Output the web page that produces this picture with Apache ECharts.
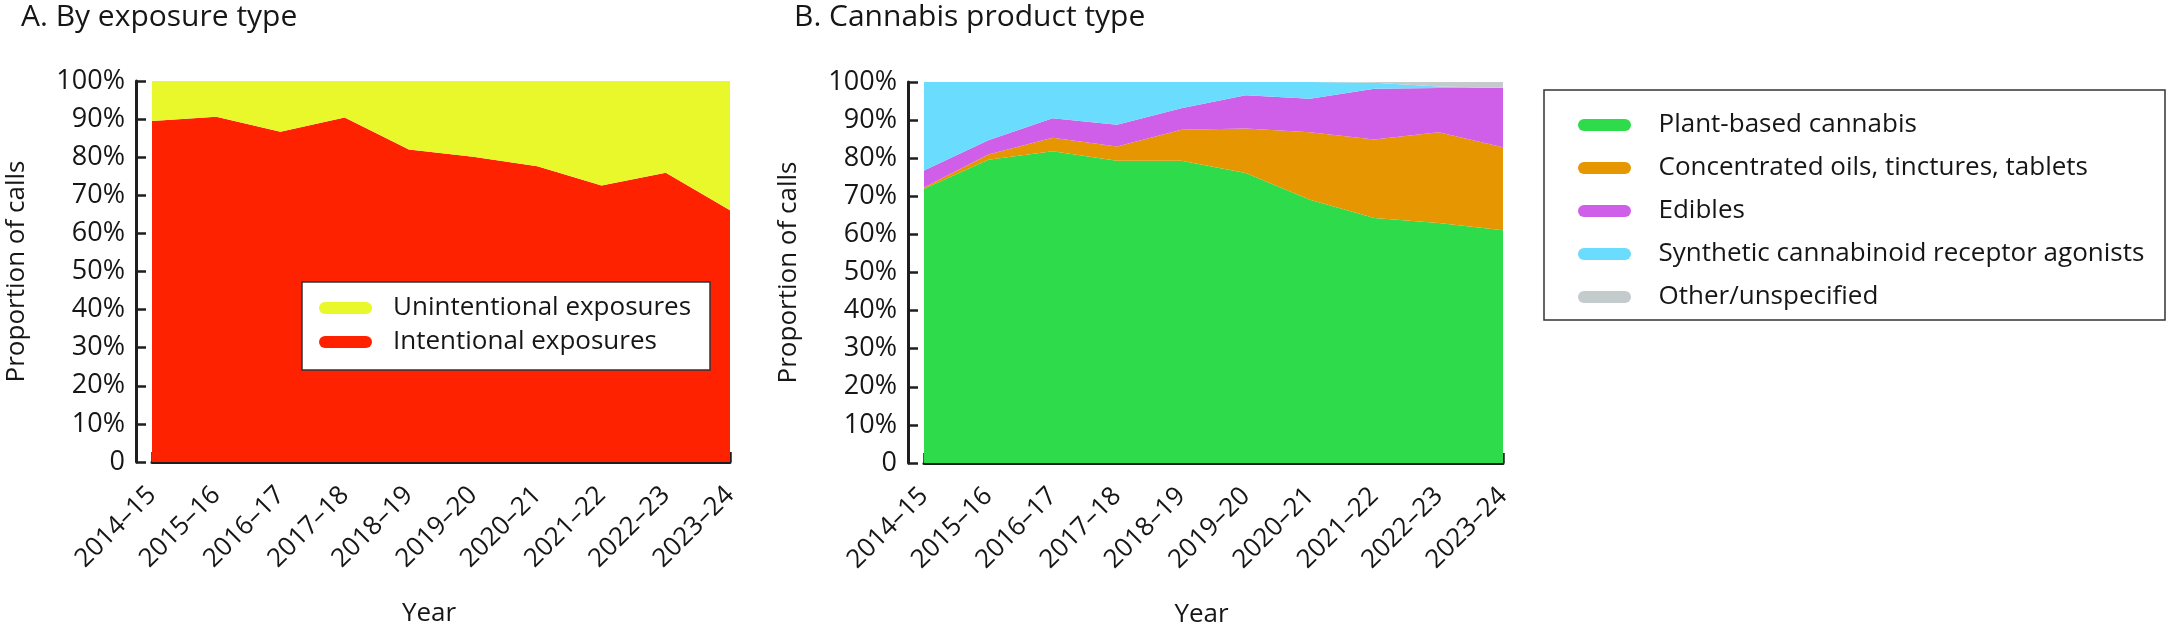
<!DOCTYPE html>
<html>
<head>
<meta charset="utf-8">
<title>Cannabis exposure calls</title>
<script src="https://cdn.jsdelivr.net/npm/echarts@6/dist/echarts.min.js"></script>
<style>
    html, body { margin: 0; padding: 0; background: #fff; }
    #chart { width: 2168px; height: 634px; }
</style>
</head>
<body>
<div id="chart"></div>
<script>
// 年度（两幅图共用）
const years = ['2014–15', '2015–16', '2016–17', '2017–18', '2018–19', '2019–20', '2020–21', '2021–22', '2022–23', '2023–24'];

// A. 按暴露类型
const intentional = [89.5, 90.6, 86.7, 90.4, 82.0, 80.1, 77.6, 72.6, 75.9, 66.1];
const unintentional = [10.5, 9.4, 13.3, 9.6, 18.0, 19.9, 22.4, 27.4, 24.1, 33.9];

// B. 按大麻产品类型
const plantBased = [72.0, 79.6, 81.8, 79.3, 79.3, 76.1, 69.1, 64.3, 63.0, 61.1];
const concentrated = [0.3, 1.4, 3.6, 3.8, 8.2, 11.7, 17.7, 20.6, 23.8, 21.8];
const edibles = [4.5, 3.7, 5.1, 5.7, 5.6, 8.7, 8.8, 13.3, 11.6, 15.6];
const synthetic = [23.2, 15.3, 9.5, 11.2, 6.9, 3.5, 4.4, 1.6, 0.4, 0];
const other = [0, 0, 0, 0, 0, 0, 0, 0.2, 1.2, 1.5];

// y 轴刻度
const yTicks = [0, 10, 20, 30, 40, 50, 60, 70, 80, 90, 100];

const FONT = '"Open Sans", "Noto Sans", sans-serif';
const TEXT = '#161616';
const AXIS = '#1e1e1e';
const PILL = 'path://M6,0 L47,0 A6,6 0 0 1 47,12 L6,12 A6,6 0 0 1 6,0 Z';

const chart = echarts.init(document.getElementById('chart'), null, { renderer: 'canvas' });

function xAxisFor(gridIndex) {
    return {
        type: 'category',
        gridIndex: gridIndex,
        data: years,
        boundaryGap: false,
        offset: 15,
        axisLine: { lineStyle: { color: AXIS, width: 3 } },
        axisTick: { inside: true, length: 10, alignWithLabel: true, interval: 0, lineStyle: { color: AXIS, width: 2.5 } },
        axisLabel: { interval: 0, rotate: 45, margin: 14, fontSize: 26, fontFamily: FONT, color: TEXT },
        name: 'Year',
        nameLocation: 'middle',
        nameGap: 124,
        nameTextStyle: { fontSize: 26, fontFamily: FONT, color: TEXT, padding: [0, 24, 0, 0] },
        splitLine: { show: false }
    };
}

function yAxisFor(gridIndex) {
    return {
        type: 'value',
        gridIndex: gridIndex,
        min: yTicks[0],
        max: yTicks[yTicks.length - 1],
        interval: yTicks[1] - yTicks[0],
        offset: 16,
        axisLine: { show: true, lineStyle: { color: AXIS, width: 3 } },
        axisTick: { show: true, inside: true, length: 10, lineStyle: { color: AXIS, width: 2.5 } },
        axisLabel: {
            margin: 11,
            fontSize: 27,
            fontFamily: FONT,
            color: TEXT,
            formatter: function (v) { return v === 0 ? '0' : v + '%'; }
        },
        name: 'Proportion of calls',
        nameLocation: 'middle',
        nameGap: 106,
        nameRotate: 90,
        nameTextStyle: { fontSize: 26, fontFamily: FONT, color: TEXT },
        splitLine: { show: false }
    };
}

function area(name, data, color, xIdx, stack) {
    return {
        name: name,
        type: 'line',
        xAxisIndex: xIdx,
        yAxisIndex: xIdx,
        stack: stack,
        data: data,
        symbol: 'none',
        smooth: false,
        lineStyle: { width: 0, color: color },
        itemStyle: { color: color },
        areaStyle: { color: color, opacity: 1 },
        emphasis: { disabled: true }
    };
}

function legendItem(name, color) {
    return { name: name, icon: PILL, itemStyle: { color: color } };
}

const option = {
    animation: false,
    backgroundColor: '#ffffff',
    title: [
        { text: 'A. By exposure type', left: 21, top: 0, padding: 0,
          textStyle: { fontSize: 30, fontWeight: 'normal', fontFamily: FONT, color: TEXT, lineHeight: 34 } },
        { text: 'B. Cannabis product type', left: 794, top: 0, padding: 0,
          textStyle: { fontSize: 30, fontWeight: 'normal', fontFamily: FONT, color: TEXT, lineHeight: 34 } }
    ],
    grid: [
        { left: 152, top: 81, width: 578, height: 381, containLabel: false },
        { left: 924, top: 82, width: 579, height: 381, containLabel: false }
    ],
    xAxis: [xAxisFor(0), xAxisFor(1)],
    yAxis: [yAxisFor(0), yAxisFor(1)],
    graphic: [
        { type: 'rect', z: 50, shape: { x: 302, y: 282, width: 408, height: 88 },
          style: { fill: '#ffffff', stroke: '#333333', lineWidth: 1.5 } },
        { type: 'rect', z: 50, shape: { x: 1544, y: 90, width: 621, height: 230 },
          style: { fill: '#ffffff', stroke: '#333333', lineWidth: 1.5 } }
    ],
    legend: [
        {
            z: 60,
            orient: 'vertical',
            left: 319,
            top: 293,
            padding: 0,
            itemWidth: 53,
            itemHeight: 12,
            itemGap: 4,
            selectedMode: false,
            textStyle: { fontSize: 26, fontFamily: FONT, color: TEXT, lineHeight: 30, padding: [0, 0, 0, 16] },
            data: [
                legendItem('Unintentional exposures', '#e8f82a'),
                legendItem('Intentional exposures', '#ff2200')
            ]
        },
        {
            z: 60,
            orient: 'vertical',
            left: 1578,
            top: 110,
            padding: 0,
            itemWidth: 54,
            itemHeight: 12,
            itemGap: 13,
            selectedMode: false,
            textStyle: { fontSize: 26, fontFamily: FONT, color: TEXT, lineHeight: 30, padding: [0, 0, 0, 22] },
            data: [
                legendItem('Plant-based cannabis', '#2ddb4b'),
                legendItem('Concentrated oils, tinctures, tablets', '#e69600'),
                legendItem('Edibles', '#cf5ee9'),
                legendItem('Synthetic cannabinoid receptor agonists', '#6adcfd'),
                legendItem('Other/unspecified', '#c3cbcc')
            ]
        }
    ],
    series: [
        area('Intentional exposures', intentional, '#ff2200', 0, 'a'),
        area('Unintentional exposures', unintentional, '#e8f82a', 0, 'a'),
        area('Plant-based cannabis', plantBased, '#2ddb4b', 1, 'b'),
        area('Concentrated oils, tinctures, tablets', concentrated, '#e69600', 1, 'b'),
        area('Edibles', edibles, '#cf5ee9', 1, 'b'),
        area('Synthetic cannabinoid receptor agonists', synthetic, '#6adcfd', 1, 'b'),
        area('Other/unspecified', other, '#c3cbcc', 1, 'b')
    ]
};

chart.setOption(option);

window.addEventListener('resize', () => {
    chart && chart.resize();
});
</script>
</body>
</html>
